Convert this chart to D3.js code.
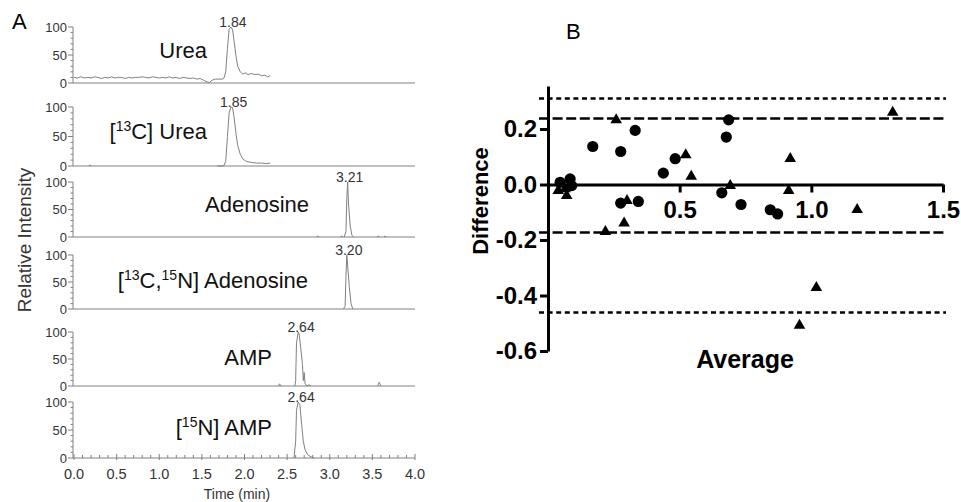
<!DOCTYPE html>
<html>
<head>
<meta charset="utf-8">
<script src="https://cdn.jsdelivr.net/npm/d3@7"></script>
<style>
  html, body { margin: 0; padding: 0; background: #fff; }
  svg { display: block; font-family: Arial, "Liberation Sans", Helvetica, sans-serif; }
</style>
</head>
<body>
<svg id="chart" width="961" height="502"></svg>
<script>
/* ============================================================
   A: stacked chromatograms   B: Bland-Altman difference plot
   ============================================================ */

// ---- Panel A data ----
// labels use ^..^ around superscript parts
const compounds = ['Urea', '[^13^C] Urea', 'Adenosine', '[^13^C,^15^N] Adenosine', 'AMP', '[^15^N] AMP'];
const peakTimes = [1.84, 1.85, 3.21, 3.20, 2.64, 2.64];
const timeTicks = [0.0, 0.5, 1.0, 1.5, 2.0, 2.5, 3.0, 3.5, 4.0];
const intensityTicks = [0, 50, 100];

// each trace = list of segments, each segment = [time, intensity] pairs
const ureaTrace = [[
  [0.00, 10], [0.04, 9], [0.08, 11], [0.12, 9], [0.16, 10], [0.20, 9], [0.24, 11], [0.28, 10],
  [0.32, 8], [0.36, 10], [0.40, 9], [0.44, 11], [0.48, 9], [0.52, 10], [0.56, 10], [0.60, 8],
  [0.64, 10], [0.68, 9], [0.72, 10], [0.76, 10], [0.80, 11], [0.84, 10], [0.88, 9], [0.92, 11],
  [0.96, 10], [1.00, 9], [1.04, 10], [1.08, 9], [1.12, 11], [1.16, 9], [1.20, 10], [1.24, 8],
  [1.28, 10], [1.32, 9], [1.36, 8], [1.40, 9], [1.44, 7], [1.48, 8], [1.52, 5], [1.56, 2],
  [1.59, 1], [1.62, 5], [1.66, 7], [1.70, 7], [1.74, 7], [1.76, 9], [1.78, 20], [1.80, 62],
  [1.82, 96], [1.84, 100], [1.86, 95], [1.88, 72], [1.90, 48], [1.92, 30], [1.95, 20], [1.98, 16],
  [2.01, 18], [2.04, 15], [2.08, 17], [2.12, 15], [2.16, 16], [2.20, 13], [2.24, 14], [2.27, 11],
  [2.30, 13]
]];
const ureaC13Trace = [
  [[0.18, 0], [0.19, 2], [0.20, 0]],
  [[1.68, 0], [1.74, 0], [1.76, 1], [1.78, 8], [1.80, 50], [1.82, 90], [1.84, 100], [1.86, 99],
   [1.88, 80], [1.90, 55], [1.92, 35], [1.95, 20], [1.98, 12], [2.02, 8], [2.08, 6], [2.14, 5],
   [2.20, 5], [2.26, 4], [2.30, 5]]
];
const adenosineTrace = [
  [[2.85, 0], [2.86, 2], [2.87, 0]],
  [[3.13, 0], [3.14, 2], [3.15, 0]],
  [[3.17, 0], [3.19, 10], [3.20, 70], [3.21, 100], [3.22, 60], [3.24, 20], [3.26, 3], [3.28, 0]],
  [[3.56, 0], [3.57, 2], [3.58, 0]],
  [[3.64, 0], [3.65, 2], [3.66, 0]]
];
const adenosineLabTrace = [
  [[3.16, 0], [3.18, 5], [3.19, 60], [3.20, 100], [3.21, 80], [3.23, 40], [3.25, 10], [3.27, 0]]
];
const ampTrace = [
  [[2.40, 0], [2.41, 4], [2.43, 0]],
  [[2.59, 0], [2.60, 10], [2.61, 80], [2.63, 100], [2.64, 97], [2.66, 70], [2.68, 40], [2.69, 10],
   [2.70, 25], [2.71, 5], [2.73, 0], [2.76, 2], [2.78, 0]],
  [[3.56, 0], [3.58, 7], [3.60, 0]]
];
const ampN15Trace = [
  [[2.58, 0], [2.60, 30], [2.61, 85], [2.63, 100], [2.65, 95], [2.67, 60], [2.69, 30], [2.71, 15],
   [2.74, 6], [2.78, 2], [2.82, 0]]
];
const traces = [ureaTrace, ureaC13Trace, adenosineTrace, adenosineLabTrace, ampTrace, ampN15Trace];

// ---- Panel B data ----
const circleAvg  = [0.046, 0.084, 0.09, 0.17, 0.276, 0.331, 0.276, 0.343, 0.438, 0.483, 0.686, 0.677, 0.66, 0.733, 0.844, 0.872];
const circleDiff = [0.008, 0.02, -0.004, 0.137, 0.119, 0.195, -0.067, -0.061, 0.041, 0.093, 0.233, 0.171, -0.03, -0.072, -0.091, -0.106];
const triAvg  = [0.039, 0.071, 0.065, 0.259, 0.30, 0.218, 0.289, 0.523, 0.544, 0.692, 0.92, 0.914, 1.174, 1.309, 1.019, 0.955];
const triDiff = [-0.022, -0.04, -0.016, 0.233, -0.058, -0.17, -0.139, 0.107, 0.029, -0.004, 0.093, -0.022, -0.091, 0.26, -0.372, -0.508];
const limitValues = [0.31, 0.238, -0.173, -0.461];
const limitStyles = ['dot', 'dash', 'dash', 'dot'];
const diffTicks = [-0.6, -0.4, -0.2, 0.0, 0.2];
const avgTicks = [0.5, 1.0, 1.5];

const svg = d3.select('#chart');

// ================= Panel A =================
const panelTop  = [27, 107, 182, 255, 332, 402];
const panelBase = [83, 166, 237, 309, 386, 458];
const labelRight = [207, 207, 309, 308, 272, 272];
const labelBase  = [58, 139, 212, 288, 365, 435];

const GREY = '#808080';
const xA = d3.scaleLinear().domain([0, 4]).range([74, 415]);

svg.append('text').attr('x', 12).attr('y', 29).attr('font-size', 22).text('A');

compounds.forEach((name, i) => {
  const yA = d3.scaleLinear().domain([0, 100]).range([panelBase[i], panelTop[i]]);
  const g = svg.append('g');

  // y axis with minor ticks
  g.append('line').attr('x1', 73).attr('x2', 73)
    .attr('y1', yA(0)).attr('y2', yA(100)).attr('stroke', GREY);
  d3.range(0, 101, 10).forEach(v => {
    const major = intensityTicks.includes(v);
    g.append('line').attr('x1', major ? 68 : 70.5).attr('x2', 73)
      .attr('y1', yA(v)).attr('y2', yA(v)).attr('stroke', GREY);
  });
  intensityTicks.forEach(v => {
    g.append('text').attr('x', 67).attr('y', yA(v) + 4.5)
      .attr('text-anchor', 'end').attr('font-size', 13).attr('fill', '#333').text(v);
  });

  // baseline
  g.append('line').attr('x1', 73).attr('x2', xA(4))
    .attr('y1', yA(0)).attr('y2', yA(0)).attr('stroke', GREY);

  // trace
  const line = d3.line().x(d => xA(d[0])).y(d => yA(d[1]));
  traces[i].forEach(seg => {
    g.append('path').attr('d', line(seg)).attr('fill', 'none')
      .attr('stroke', GREY).attr('stroke-width', 1);
  });

  // peak label
  g.append('text').attr('x', xA(peakTimes[i]) + 2).attr('y', yA(100))
    .attr('text-anchor', 'middle').attr('font-size', 14).attr('fill', '#333')
    .text(peakTimes[i].toFixed(2));

  // compound name with superscripts
  const t = g.append('text').attr('x', labelRight[i]).attr('y', labelBase[i])
    .attr('text-anchor', 'end').attr('font-size', 22).attr('fill', '#111');
  let raised = false;
  name.split('^').forEach((part, k) => {
    if (!part) return;
    const sup = k % 2 === 1;
    const span = t.append('tspan').text(part);
    if (sup) {
      span.attr('font-size', 14).attr('dy', raised ? 0 : -8);
      raised = true;
    } else if (raised) {
      span.attr('dy', 8);
      raised = false;
    }
  });

  // bottom panel gets the time axis
  if (i === compounds.length - 1) {
    d3.range(0, 4.001, 0.1).forEach(v => {
      const major = Math.abs(v * 2 - Math.round(v * 2)) < 1e-6;
      g.append('line').attr('x1', xA(v)).attr('x2', xA(v))
        .attr('y1', yA(0) + (major ? 2 : 0)).attr('y2', yA(0) - (major ? 4 : 3)).attr('stroke', GREY);
    });
    timeTicks.forEach(v => {
      g.append('text').attr('x', xA(v)).attr('y', yA(0) + 21)
        .attr('text-anchor', 'middle').attr('font-size', 14.5).attr('fill', '#333')
        .text(v.toFixed(1));
    });
    g.append('text').attr('x', 237).attr('y', 499)
      .attr('text-anchor', 'middle').attr('font-size', 14).attr('fill', '#333').text('Time (min)');
  }
});

svg.append('text')
  .attr('transform', 'translate(31,240) rotate(-90)')
  .attr('text-anchor', 'middle').attr('font-size', 19).attr('fill', '#333')
  .text('Relative Intensity');

// ================= Panel B =================
svg.append('text').attr('x', 566).attr('y', 39).attr('font-size', 22).text('B');

const xB = d3.scaleLinear().domain([0, 1.5]).range([548, 943]);
const yB = d3.scaleLinear().domain([-0.6, 0.355]).range([351, 86]);

// limits of agreement
limitValues.forEach((v, i) => {
  svg.append('line')
    .attr('x1', 539).attr('x2', 946)
    .attr('y1', yB(v)).attr('y2', yB(v))
    .attr('stroke', '#000').attr('stroke-width', 2.6)
    .attr('stroke-dasharray', limitStyles[i] === 'dot' ? '5,3.6' : '10,3.6');
});

// plain hyphen for negatives, like the original figure
const fmt = v => v.toFixed(1);

const yAxis = svg.append('g')
  .attr('transform', `translate(${xB(0)},0)`)
  .call(d3.axisLeft(yB).tickValues(diffTicks).tickSize(8).tickSizeOuter(0).tickPadding(3).tickFormat(fmt));

const xAxis = svg.append('g')
  .attr('transform', `translate(0,${yB(0)})`)
  .call(d3.axisBottom(xB).tickValues(avgTicks).tickSize(8).tickSizeOuter(0).tickPadding(8).tickFormat(fmt));

[yAxis, xAxis].forEach(ax => {
  ax.select('.domain').attr('stroke', '#000').attr('stroke-width', 3);
  ax.selectAll('.tick line').attr('stroke', '#000').attr('stroke-width', 3);
  ax.selectAll('.tick text').attr('fill', '#000')
    .attr('font-size', 24).attr('font-weight', 'bold')
    .attr('font-family', 'Arial, "Liberation Sans", sans-serif');
});

// points
svg.append('g').selectAll('circle')
  .data(circleAvg.map((a, i) => [a, circleDiff[i]]))
  .enter().append('circle')
  .attr('cx', d => xB(d[0])).attr('cy', d => yB(d[1]))
  .attr('r', 5.6).attr('fill', '#000');

const tri = d3.symbol().type(d3.symbolTriangle).size(58);
svg.append('g').selectAll('path')
  .data(triAvg.map((a, i) => [a, triDiff[i]]))
  .enter().append('path')
  .attr('d', tri)
  .attr('transform', d => `translate(${xB(d[0])},${yB(d[1])})`)
  .attr('fill', '#000');

// axis titles
svg.append('text')
  .attr('transform', 'translate(488,201) rotate(-90)')
  .attr('text-anchor', 'middle').attr('font-size', 22).attr('font-weight', 'bold')
  .text('Difference');

svg.append('text')
  .attr('x', 745).attr('y', 368)
  .attr('text-anchor', 'middle').attr('font-size', 25).attr('font-weight', 'bold')
  .text('Average');
</script>
</body>
</html>
